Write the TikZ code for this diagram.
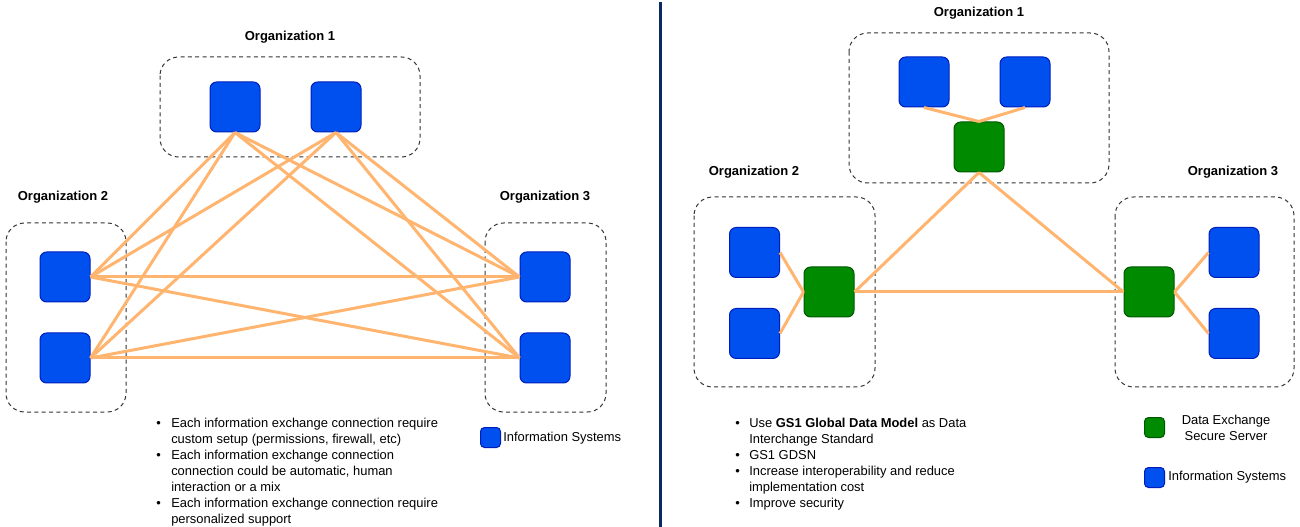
\documentclass[tikz,border=0pt]{standalone}
\usepackage{fontspec}
\setmainfont{Liberation Sans}
\usepackage{tikz}
\usetikzlibrary{positioning}
\usepackage{xcolor}
\definecolor{isblue}{RGB}{0,80,239}
\definecolor{isblueline}{RGB}{0,29,188}
\definecolor{srvgreen}{RGB}{0,138,0}
\definecolor{srvgreenline}{RGB}{0,87,0}
\definecolor{linkorange}{RGB}{255,181,112}
\definecolor{dividernavy}{RGB}{12,40,100}
\tikzstyle{infosys} = [rectangle, rounded corners=5pt, minimum size=37.5pt, draw=isblueline, fill=isblue, line width=0.75pt, inner sep=0pt]
\tikzstyle{server} = [infosys, draw=srvgreenline, fill=srvgreen]
\tikzstyle{legendbox} = [infosys, minimum size=15pt, rounded corners=3pt]
\tikzstyle{link} = [line width=2.25pt, color=linkorange]
\tikzstyle{orgbox} = [draw=black!80, rounded corners=14pt, line width=0.75pt, dash pattern=on 3pt off 2.5pt]
\tikzstyle{orgtitle} = [font=\fontsize{9.75}{12}\selectfont\bfseries]
\tikzstyle{bullets} = [anchor=north west, inner sep=0pt, font=\fontsize{9.7}{12}\selectfont]
\tikzstyle{legendtext} = [inner sep=0pt, font=\fontsize{9.7}{12}\selectfont]

\begin{document}
\begin{tikzpicture}[x=0.75pt, y=-0.75pt]
\useasboundingbox (0,0) rectangle (1300,527);

% Left: every organization linked to every other one
\draw[orgbox] (160,57) rectangle (420,157);
\draw[orgbox] (6,223) rectangle (126,412);
\draw[orgbox] (485,223) rectangle (606,412);
\node (t1) [orgtitle] at (290,37) {Organization 1};
\node (t2) [orgtitle] at (63,197) {Organization 2};
\node (t3) [orgtitle] at (545,197) {Organization 3};

\node (a1) [infosys] at (235,107) {};
\node (a2) [infosys, right=37.5pt of a1] {};
\node (b1) [infosys] at (65,277) {};
\node (b2) [infosys, below=22.5pt of b1] {};
\node (c1) [infosys] at (545,277) {};
\node (c2) [infosys, below=22.5pt of c1] {};

\draw[link] (a1.south) -- (b1.east);
\draw[link] (a1.south) -- (b2.east);
\draw[link] (a1.south) -- (c1.west);
\draw[link] (a1.south) -- (c2.west);
\draw[link] (a2.south) -- (b1.east);
\draw[link] (a2.south) -- (b2.east);
\draw[link] (a2.south) -- (c1.west);
\draw[link] (a2.south) -- (c2.west);
\draw[link] (b1.east) -- (c1.west);
\draw[link] (b1.east) -- (c2.west);
\draw[link] (b2.east) -- (c1.west);
\draw[link] (b2.east) -- (c2.west);

\node (notesl) [bullets] at (156,416) {\begin{tabular}{@{}p{11.25pt}@{}l@{}}
\textbullet & Each information exchange connection require\\
 & custom setup (permissions, firewall, etc)\\
\textbullet & Each information exchange connection\\
 & connection could be automatic, human\\
 & interaction or a mix\\
\textbullet & Each information exchange connection require\\
 & personalized support
\end{tabular}};
\node (keyl) [legendbox] at (490.5,437.5) {};
\node (keyltxt) [legendtext, anchor=west] at (503,438) {Information Systems};

% Divider
\draw[dividernavy, line width=2.25pt] (660,2) -- (660,527);

% Right: organizations linked through secure servers
\draw[orgbox] (849,33) rectangle (1109,183);
\draw[orgbox] (694,197) rectangle (875,387);
\draw[orgbox] (1115,197) rectangle (1294,387);
\node (r1) [orgtitle] at (979,13) {Organization 1};
\node (r2) [orgtitle] at (754,172) {Organization 2};
\node (r3) [orgtitle] at (1233,172) {Organization 3};

\node (ra1) [infosys] at (924,82) {};
\node (ra2) [infosys, right=37.5pt of ra1] {};
\node (rs1) [server] at (979,147) {};
\node (rb1) [infosys] at (754.5,252.5) {};
\node (rb2) [infosys, below=22.5pt of rb1] {};
\node (rs2) [server] at (829,292) {};
\node (rs3) [server] at (1149,292) {};
\node (rc1) [infosys] at (1234,252.5) {};
\node (rc2) [infosys, below=22.5pt of rc1] {};

\draw[link] (ra1.south) -- (rs1.north);
\draw[link] (ra2.south) -- (rs1.north);
\draw[link] (rb1.east) -- (rs2.west);
\draw[link] (rb2.east) -- (rs2.west);
\draw[link] (rs3.east) -- (rc1.west);
\draw[link] (rs3.east) -- (rc2.west);
\draw[link] (rs1.south) -- (rs2.east);
\draw[link] (rs1.south) -- (rs3.west);
\draw[link] (rs2.east) -- (rs3.west);

\node (notesr) [bullets] at (735,416) {\begin{tabular}{@{}p{10.5pt}@{}l@{}}
\textbullet & Use \textbf{GS1 Global Data Model} as Data\\
 & Interchange Standard\\
\textbullet & GS1 GDSN\\
\textbullet & Increase interoperability and reduce\\
 & implementation cost\\
\textbullet & Improve security
\end{tabular}};
\node (keyr1) [legendbox, draw=srvgreenline, fill=srvgreen] at (1154.5,427.5) {};
\node (keyr1txt) [legendtext, align=center] at (1226,428) {Data Exchange\\Secure Server};
\node (keyr2) [legendbox] at (1154.5,477.5) {};
\node (keyr2txt) [legendtext, anchor=west] at (1168,477) {Information Systems};
\end{tikzpicture}
\end{document}
